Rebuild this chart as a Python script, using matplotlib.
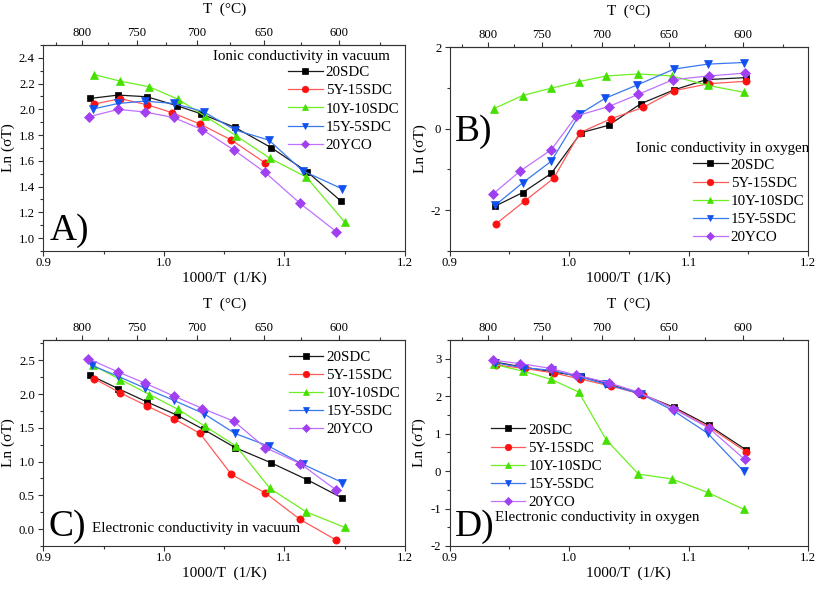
import matplotlib
matplotlib.use("Agg")
import matplotlib.pyplot as plt
from matplotlib.ticker import MultipleLocator, FixedLocator

plt.rcParams['font.family'] = ['Liberation Serif', 'DejaVu Serif']
plt.rcParams['axes.unicode_minus'] = False
plt.rcParams['mathtext.fontset'] = 'stix'

series_names = ["20SDC", "5Y-15SDC", "10Y-10SDC", "15Y-5SDC", "20YCO"]

# ---------- Panel A: Ionic conductivity in vacuum ----------
A_x_20SDC = [0.939, 0.962, 0.986, 1.011, 1.031, 1.059, 1.089, 1.119, 1.147]
A_y_20SDC = [2.085, 2.111, 2.098, 2.028, 1.965, 1.860, 1.703, 1.514, 1.287]
A_x_5Y15SDC = [0.942, 0.964, 0.986, 1.007, 1.030, 1.056, 1.084]
A_y_5Y15SDC = [2.041, 2.083, 2.036, 1.974, 1.886, 1.762, 1.584]
A_x_10Y10SDC = [0.942, 0.964, 0.988, 1.012, 1.034, 1.060, 1.088, 1.118, 1.150]
A_y_10Y10SDC = [2.270, 2.219, 2.175, 2.078, 1.948, 1.795, 1.620, 1.475, 1.125]
A_x_15Y5SDC = [0.941, 0.962, 0.984, 1.008, 1.033, 1.059, 1.087, 1.115, 1.148]
A_y_15Y5SDC = [2.002, 2.046, 2.064, 2.046, 1.982, 1.840, 1.762, 1.524, 1.382]
A_x_20YCO = [0.938, 0.962, 0.984, 1.008, 1.032, 1.058, 1.084, 1.113, 1.143]
A_y_20YCO = [1.943, 2.000, 1.980, 1.937, 1.842, 1.685, 1.510, 1.270, 1.050]

# ---------- Panel B: Ionic conductivity in oxygen ----------
B_x_20SDC = [0.938, 0.961, 0.985, 1.010, 1.033, 1.060, 1.088, 1.115, 1.148]
B_y_20SDC = [-1.90, -1.57, -1.10, -0.10, 0.08, 0.61, 0.95, 1.20, 1.25]
B_x_5Y15SDC = [0.939, 0.963, 0.987, 1.009, 1.035, 1.062, 1.088, 1.117, 1.148]
B_y_5Y15SDC = [-2.33, -1.77, -1.22, -0.10, 0.24, 0.52, 0.93, 1.10, 1.16]
B_x_10Y10SDC = [0.937, 0.961, 0.985, 1.008, 1.031, 1.058, 1.086, 1.116, 1.146]
B_y_10Y10SDC = [0.49, 0.81, 0.99, 1.15, 1.29, 1.34, 1.29, 1.06, 0.89]
B_x_15Y5SDC = [0.938, 0.961, 0.985, 1.009, 1.030, 1.057, 1.088, 1.116, 1.146]
B_y_15Y5SDC = [-1.88, -1.33, -0.80, 0.36, 0.74, 1.07, 1.46, 1.58, 1.62]
B_x_20YCO = [0.936, 0.959, 0.985, 1.006, 1.033, 1.058, 1.087, 1.117, 1.147]
B_y_20YCO = [-1.61, -1.04, -0.52, 0.31, 0.54, 0.84, 1.20, 1.29, 1.36]

# ---------- Panel C: Electronic conductivity in vacuum ----------
C_x_20SDC = [0.939, 0.962, 0.986, 1.011, 1.033, 1.059, 1.089, 1.119, 1.148]
C_y_20SDC = [2.278, 2.081, 1.883, 1.686, 1.475, 1.208, 0.981, 0.730, 0.460]
C_x_5Y15SDC = [0.942, 0.964, 0.986, 1.008, 1.030, 1.056, 1.084, 1.113, 1.143]
C_y_5Y15SDC = [2.229, 2.016, 1.824, 1.637, 1.416, 0.809, 0.537, 0.143, -0.163]
C_x_10Y10SDC = [0.941, 0.964, 0.988, 1.012, 1.034, 1.060, 1.088, 1.118, 1.150]
C_y_10Y10SDC = [2.426, 2.214, 1.993, 1.771, 1.524, 1.228, 0.602, 0.256, 0.025]
C_x_15Y5SDC = [0.940, 0.962, 0.984, 1.008, 1.033, 1.059, 1.087, 1.115, 1.148]
C_y_15Y5SDC = [2.426, 2.263, 2.090, 1.908, 1.711, 1.416, 1.228, 0.962, 0.690]
C_x_20YCO = [0.937, 0.962, 0.984, 1.008, 1.032, 1.058, 1.084, 1.113, 1.143]
C_y_20YCO = [2.525, 2.327, 2.164, 1.972, 1.785, 1.598, 1.208, 0.971, 0.577]

# ---------- Panel D: Electronic conductivity in oxygen ----------
D_x_20SDC = [0.938, 0.961, 0.986, 1.010, 1.033, 1.060, 1.088, 1.117, 1.148]
D_y_20SDC = [2.91, 2.78, 2.65, 2.53, 2.33, 2.06, 1.70, 1.22, 0.57]
D_x_5Y15SDC = [0.939, 0.963, 0.987, 1.009, 1.035, 1.062, 1.088, 1.117, 1.148]
D_y_5Y15SDC = [2.83, 2.74, 2.62, 2.46, 2.27, 2.04, 1.67, 1.18, 0.52]
D_x_10Y10SDC = [0.937, 0.961, 0.985, 1.008, 1.031, 1.058, 1.086, 1.116, 1.146]
D_y_10Y10SDC = [2.85, 2.67, 2.45, 2.11, 0.84, -0.08, -0.21, -0.57, -1.02]
D_x_15Y5SDC = [0.938, 0.962, 0.986, 1.009, 1.030, 1.060, 1.088, 1.116, 1.146]
D_y_15Y5SDC = [2.89, 2.76, 2.69, 2.51, 2.33, 2.06, 1.60, 1.01, 0.00]
D_x_20YCO = [0.936, 0.959, 0.985, 1.006, 1.033, 1.058, 1.087, 1.117, 1.147]
D_y_20YCO = [2.96, 2.87, 2.74, 2.56, 2.36, 2.11, 1.67, 1.15, 0.31]

line_colors = ['#1a1a1a', '#ff5a5a', '#6cf020', '#3a78f0', '#c070ff']
marker_colors = ['#000000', '#ff1010', '#44e000', '#1050f0', '#a040f0']
markers = ['s', 'o', '^', 'v', 'D']
msizes = [4.6, 5.2, 5.4, 5.4, 4.8]

T_major = [800, 750, 700, 650, 600]
T_minor = [825, 775, 725, 675, 625, 575]

fig = plt.figure(figsize=(8.17, 5.91), dpi=100)

W, H = 817.0, 591.0


def axes_box(l, t, r, b):
    return [l / W, 1 - b / H, (r - l) / W, (b - t) / H]


panels = [
    dict(box=axes_box(43.3, 45, 405, 251), ylim=(0.9, 2.5), ymaj=0.2, ymin=0.1,
         xs=[A_x_20SDC, A_x_5Y15SDC, A_x_10Y10SDC, A_x_15Y5SDC, A_x_20YCO],
         ys=[A_y_20SDC, A_y_5Y15SDC, A_y_10Y10SDC, A_y_15Y5SDC, A_y_20YCO],
         letter="A)", letter_pos=(0.017, 0.10),
         note="Ionic conductivity in vacuum", note_pos=(0.469, 0.942),
         leg_pos=(0.677, 0.899)),
    dict(box=axes_box(449.7, 47, 808, 251), ylim=(-3, 2), ymaj=2, ymin=1,
         xs=[B_x_20SDC, B_x_5Y15SDC, B_x_10Y10SDC, B_x_15Y5SDC, B_x_20YCO],
         ys=[B_y_20SDC, B_y_5Y15SDC, B_y_10Y10SDC, B_y_15Y5SDC, B_y_20YCO],
         letter="B)", letter_pos=(0.014, 0.585),
         note="Ionic conductivity in oxygen", note_pos=(0.52, 0.504),
         leg_pos=(0.6795, 0.455)),
    dict(box=axes_box(43.3, 340, 405, 546), ylim=(-0.25, 2.8), ymaj=0.5, ymin=0.25,
         xs=[C_x_20SDC, C_x_5Y15SDC, C_x_10Y10SDC, C_x_15Y5SDC, C_x_20YCO],
         ys=[C_y_20SDC, C_y_5Y15SDC, C_y_10Y10SDC, C_y_15Y5SDC, C_y_20YCO],
         letter="C)", letter_pos=(0.015, 0.092),
         note="Electronic conductivity in vacuum", note_pos=(0.135, 0.087),
         leg_pos=(0.679, 0.950)),
    dict(box=axes_box(449.7, 340, 808, 546), ylim=(-2, 3.5), ymaj=1, ymin=0.5,
         xs=[D_x_20SDC, D_x_5Y15SDC, D_x_10Y10SDC, D_x_15Y5SDC, D_x_20YCO],
         ys=[D_y_20SDC, D_y_5Y15SDC, D_y_10Y10SDC, D_y_15Y5SDC, D_y_20YCO],
         letter="D)", letter_pos=(0.014, 0.092),
         note="Electronic conductivity in oxygen", note_pos=(0.126, 0.136),
         leg_pos=(0.115, 0.596)),
]

spine_color = '#333333'
tick_fs = 9.2
text_fs = 10.8

for p in panels:
    ax = fig.add_axes(p['box'])
    for i, name in enumerate(series_names):
        ax.plot(p['xs'][i], p['ys'][i], color=line_colors[i], lw=0.9,
                marker=markers[i], ms=msizes[i], mfc=marker_colors[i],
                mec=marker_colors[i], mew=0.5, label=name)
    ax.set_xlim(0.9, 1.2)
    ax.set_ylim(*p['ylim'])
    ax.xaxis.set_major_locator(MultipleLocator(0.1))
    ax.xaxis.set_minor_locator(MultipleLocator(0.05))
    ax.yaxis.set_major_locator(MultipleLocator(p['ymaj']))
    ax.yaxis.set_minor_locator(MultipleLocator(p['ymin']))
    ax.tick_params(axis='both', which='major', direction='out', length=3.5,
                   width=0.8, labelsize=tick_fs, pad=2.5, color=spine_color)
    ax.tick_params(axis='x', which='major', pad=0.6)
    ax.tick_params(axis='both', which='minor', direction='out', length=2,
                   width=0.8, color=spine_color)
    ax.tick_params(top=False, right=False, which='both')
    for s in ax.spines.values():
        s.set_color(spine_color)
        s.set_linewidth(0.8)
    ax.set_xlabel("1000/T  (1/K)", fontsize=11, labelpad=2)
    ax.set_ylabel("Ln (σT)", fontsize=11, labelpad=3)

    sec = ax.secondary_xaxis('top', functions=(lambda x: 1000.0 / x - 273.15,
                                               lambda t: 1000.0 / (t + 273.15)))
    sec.xaxis.set_major_locator(FixedLocator(T_major))
    sec.xaxis.set_minor_locator(FixedLocator(T_minor))
    sec.tick_params(which='major', direction='out', length=3.5, width=0.8,
                    labelsize=tick_fs, pad=1, color=spine_color)
    sec.tick_params(which='minor', direction='out', length=2, width=0.8,
                    color=spine_color)
    sec.spines['top'].set_color(spine_color)
    sec.spines['top'].set_linewidth(0.8)
    sec.set_xlabel("T  (°C)", fontsize=11, labelpad=10)

    ax.text(p['letter_pos'][0], p['letter_pos'][1], p['letter'],
            transform=ax.transAxes, fontsize=27, ha='left', va='center')
    ax.text(p['note_pos'][0], p['note_pos'][1], p['note'],
            transform=ax.transAxes, fontsize=text_fs, ha='left', va='center')
    ax.legend(loc='upper left', bbox_to_anchor=p['leg_pos'], frameon=False,
              fontsize=text_fs, borderpad=0, borderaxespad=0, handlelength=2.3,
              handletextpad=0.2, labelspacing=0.31, markerscale=0.9)

fig.savefig("out.png", dpi=100)
